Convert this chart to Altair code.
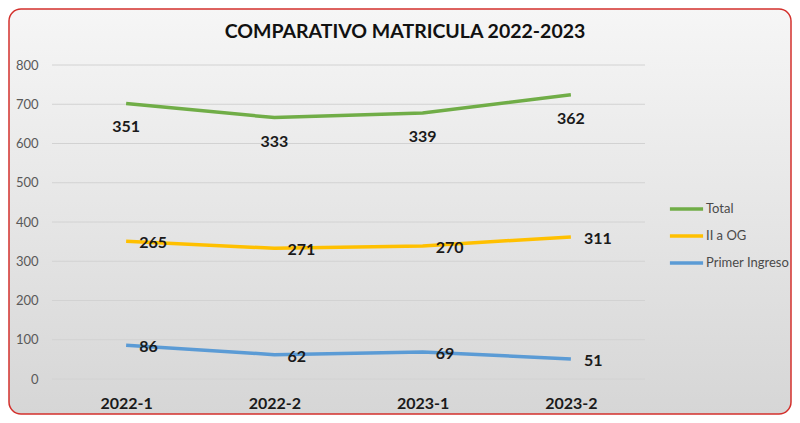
import altair as alt
import pandas as pd

periods = ["2022-1", "2022-2", "2023-1", "2023-2"]
series = ["Total", "II a OG", "Primer Ingreso"]
total_values = [702, 666, 678, 724]
total_labels = [351, 333, 339, 362]
iiog_values = [351, 333, 339, 362]
iiog_labels = [265, 271, 270, 311]
primer_values = [86, 62, 69, 51]
primer_labels = [86, 62, 69, 51]
y_ticks = [0, 100, 200, 300, 400, 500, 600, 700, 800]
colors = ["#70ad47", "#ffc000", "#5b9bd5"]
title_text = "COMPARATIVO MATRICULA 2022-2023"

rows = []
for name, vals, labs in zip(series, [total_values, iiog_values, primer_values],
                            [total_labels, iiog_labels, primer_labels]):
    for p, v, l in zip(periods, vals, labs):
        rows.append({"periodo": p, "serie": name, "valor": v, "etiqueta": l})
df = pd.DataFrame(rows)

FONT = "Lato"
W, H = 593, 314
yscale = alt.Scale(domain=[0, 800], nice=False, zero=True)
xscale = alt.Scale(domain=periods)
yaxis = alt.Axis(values=y_ticks, grid=False, domain=False, ticks=False, tickSize=0,
                 labelPadding=14, labelFontSize=13, labelColor="#595959",
                 labelFont=FONT, title=None, zindex=1)

bg = alt.Chart(alt.Data(values=[{}])).mark_rect(
    fill=alt.Gradient(gradient="linear", x1=0, y1=0, x2=0, y2=1,
                      stops=[alt.GradientStop(color="#f6f6f6", offset=0),
                             alt.GradientStop(color="#d6d6d6", offset=1)]),
    stroke="#d3302c", strokeWidth=1.5, cornerRadius=12,
).encode(x=alt.value(-43), x2=alt.value(739), y=alt.value(-56), y2=alt.value(349))

grid = alt.Chart(pd.DataFrame({"valor": y_ticks})).mark_rule(
    color="#d2d2d2", strokeWidth=1
).encode(y=alt.Y("valor:Q", scale=yscale, axis=yaxis), x=alt.value(0), x2=alt.value(W))

title = alt.Chart(alt.Data(values=[{}])).mark_text(
    text=title_text, font=FONT, fontSize=19.5, fontWeight="bold", color="#111111",
    align="center", baseline="middle",
).encode(x=alt.value(353), y=alt.value(-33))

base = alt.Chart(df).encode(
    x=alt.X("periodo:N", sort=periods, scale=xscale,
            axis=alt.Axis(labelAngle=0, domain=False, ticks=False, tickSize=0,
                          labelFontSize=16, labelFontWeight="bold", labelColor="#1a1a1a",
                          labelFont=FONT, labelPadding=16, title=None, zindex=1, grid=False)),
    y=alt.Y("valor:Q", scale=yscale, axis=yaxis),
)

lines = base.mark_line(strokeWidth=3.5, interpolate="linear").encode(
    color=alt.Color("serie:N", sort=series,
                    scale=alt.Scale(domain=series, range=colors),
                    legend=alt.Legend(orient="none", legendX=616, legendY=137, title=None,
                                      symbolType="stroke", symbolSize=1100,
                                      symbolStrokeWidth=3.5, labelFontSize=13,
                                      labelColor="#4a4a4a", labelFont=FONT,
                                      labelOffset=1, clipHeight=14, rowPadding=13)),
)

total_text = base.transform_filter(alt.datum.serie == "Total").mark_text(
    font=FONT, fontSize=16, fontWeight="bold", color="#1a1a1a", dy=24
).encode(text="etiqueta:N")

other_text = base.transform_filter(alt.datum.serie != "Total").mark_text(
    font=FONT, fontSize=16, fontWeight="bold", color="#1a1a1a", align="left", dx=13, dy=2
).encode(text="etiqueta:N")

chart = alt.layer(bg, grid, lines, total_text, other_text, title).properties(
    width=W, height=H,
    autosize=alt.AutoSizeParams(type="none"),
    padding={"left": 44, "top": 57, "right": 147, "bottom": 36},
).configure_view(stroke=None).configure(background="#ffffff")

chart.save("out.html", embed_options={"renderer": "svg", "actions": False})
